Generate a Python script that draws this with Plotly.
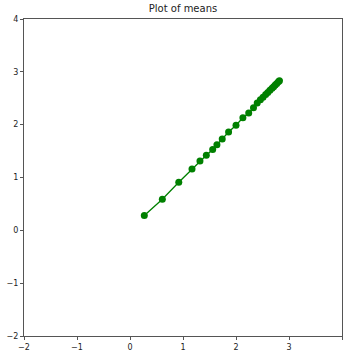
import plotly.graph_objects as go

# Running means (x, y) of the sample
mean_x = [0.27, 0.61, 0.92, 1.17, 1.32, 1.44, 1.56, 1.64, 1.74, 1.86, 2.00, 2.13,
          2.24, 2.33, 2.40, 2.46, 2.51, 2.56, 2.60, 2.64, 2.68, 2.71, 2.74, 2.77,
          2.80, 2.82]
mean_y = [0.28, 0.59, 0.91, 1.16, 1.31, 1.42, 1.53, 1.62, 1.73, 1.86, 1.99, 2.13,
          2.22, 2.32, 2.41, 2.47, 2.52, 2.57, 2.61, 2.65, 2.69, 2.72, 2.75, 2.78,
          2.81, 2.83]

tick_vals = [-2, -1, 0, 1, 2, 3, 4]
tick_text = ["\u22122", "\u22121", "0", "1", "2", "3", "4"]

fig = go.Figure()
fig.add_trace(go.Scatter(
    x=mean_x, y=mean_y, mode="lines+markers",
    line=dict(color="#008000", width=1.3),
    marker=dict(color="#008000", size=7),
    showlegend=False,
))

axis_common = dict(
    range=[-2, 4], tickvals=tick_vals, ticktext=tick_text,
    showgrid=False, zeroline=False,
    showline=True, linecolor="#555555", linewidth=1, mirror=True,
    ticks="outside", ticklen=3, tickcolor="#555555", tickwidth=1,
    tickfont=dict(family="DejaVu Sans", size=8, color="#222222"),
)

fig.update_layout(
    width=343, height=352,
    margin=dict(l=24, r=1, t=19, b=16),
    paper_bgcolor="white", plot_bgcolor="white",
    title=dict(text="Plot of means", x=0.5, xanchor="center",
               y=0.985, yanchor="top", xref="paper",
               font=dict(family="DejaVu Sans", size=10, color="#222222")),
    xaxis=axis_common,
    yaxis=axis_common,
)

fig.write_html("out.html")
